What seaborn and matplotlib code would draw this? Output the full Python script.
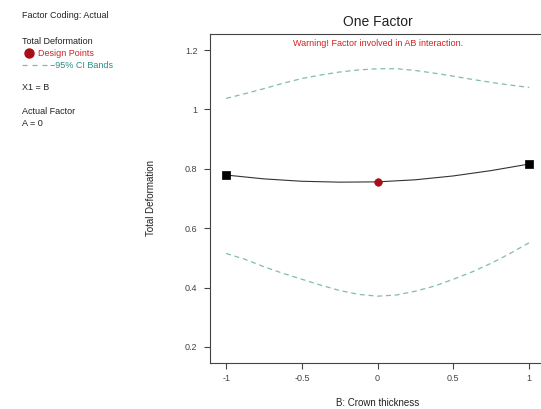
import numpy as np
import pandas as pd
import seaborn as sns
import matplotlib
matplotlib.use('Agg')
import matplotlib.pyplot as plt

# fitted response
fit_x = [-1, -0.75, -0.5, -0.25, 0, 0.25, 0.5, 0.75, 1]
fit_y = [0.779, 0.766, 0.758, 0.755, 0.756, 0.763, 0.776, 0.794, 0.816]

# 95% CI bands
band_x = [-1, -0.875, -0.75, -0.625, -0.5, -0.375, -0.25, -0.125, 0,
          0.125, 0.25, 0.375, 0.5, 0.625, 0.75, 0.875, 1]
band_upper = [1.037, 1.053, 1.070, 1.088, 1.104, 1.116, 1.126, 1.133, 1.137,
              1.137, 1.131, 1.122, 1.112, 1.101, 1.091, 1.082, 1.074]
band_lower = [0.515, 0.495, 0.470, 0.448, 0.428, 0.408, 0.390, 0.377, 0.371,
              0.375, 0.388, 0.405, 0.428, 0.453, 0.482, 0.515, 0.551]

# design points
design_x = [0]
design_y = [0.756]
end_x = [-1, 1]
end_y = [0.779, 0.816]

sns.set_style('white')
plt.rcParams['font.family'] = ['Liberation Sans', 'DejaVu Sans']

fig = plt.figure(figsize=(5.41, 4.09), dpi=100)
ax = fig.add_axes([0.388, 0.1125, 0.62, 0.8044])

band_col = '#7fbcb4'
sns.lineplot(x=band_x, y=band_upper, ax=ax, color=band_col, lw=0.9,
             linestyle=(0, (4, 3)), sort=False)
sns.lineplot(x=band_x, y=band_lower, ax=ax, color=band_col, lw=0.9,
             linestyle=(0, (4, 3)), sort=False)
sns.lineplot(x=fit_x, y=fit_y, ax=ax, color='#333333', lw=0.8, sort=False)
sns.scatterplot(x=end_x, y=end_y, ax=ax, marker='s', s=40, color='black',
                edgecolor='black', zorder=5)
sns.scatterplot(x=design_x, y=design_y, ax=ax, marker='o', s=30,
                color='#a50f15', edgecolor='#a50f15', zorder=5)

ax.set_xlim(-1.107, 1.107)
ax.set_ylim(0.146, 1.254)
ax.set_xticks([-1, -0.5, 0, 0.5, 1])
ax.set_xticklabels(['-1', '-0.5', '0', '0.5', '1'])
ax.set_yticks([0.2, 0.4, 0.6, 0.8, 1, 1.2])
ax.set_yticklabels(['0.2', '0.4', '0.6', '0.8', '1', '1.2'])
ax.tick_params(axis='both', direction='out', length=4, width=0.8,
               labelsize=6.5, labelcolor='#444444', color='#444444',
               bottom=True, left=True, top=False, right=False)
ax.tick_params(axis='y', pad=5)
ax.tick_params(axis='x', pad=4)
for side in ['left', 'bottom', 'top']:
    ax.spines[side].set_color('#444444')
    ax.spines[side].set_linewidth(0.8)
ax.spines['right'].set_visible(False)

ax.set_xlabel('B: Crown thickness', fontsize=7, color='#222222', labelpad=11)
ax.set_ylabel('Total Deformation', fontsize=7, color='#222222', labelpad=21)
ax.set_title('One Factor', fontsize=10, color='#222222', pad=6)
ax.text(0, 1.222, 'Warning! Factor involved in AB interaction.', ha='center',
        va='center', fontsize=6.5, color='#d42020')

# left info panel
fig.text(22 / 541, 1 - 16 / 409, 'Factor Coding: Actual', fontsize=6.5,
         color='#222222', va='center')
fig.text(22 / 541, 1 - 41 / 409, 'Total Deformation', fontsize=6.5,
         color='#222222', va='center')
fig.add_artist(plt.Line2D([29 / 541], [1 - 53 / 409], marker='o',
                          markersize=6.5, color='#a50f15', linestyle='none',
                          transform=fig.transFigure))
fig.text(38 / 541, 1 - 53 / 409, 'Design Points', fontsize=6.5,
         color='#d42020', va='center')
fig.add_artist(plt.Line2D([22 / 541, 52 / 541], [1 - 65 / 409, 1 - 65 / 409],
                          color=band_col, lw=0.9, linestyle=(0, (4, 4)),
                          transform=fig.transFigure))
fig.text(50 / 541, 1 - 65 / 409, '\u221295% CI Bands', fontsize=6.5,
         color='#2a8c86', va='center')
fig.text(22 / 541, 1 - 88 / 409, 'X1 = B', fontsize=6.5, color='#222222',
         va='center')
fig.text(22 / 541, 1 - 112 / 409, 'Actual Factor', fontsize=6.5,
         color='#222222', va='center')
fig.text(22 / 541, 1 - 124 / 409, 'A = 0', fontsize=6.5, color='#222222',
         va='center')

fig.savefig('out.png', dpi=100)
